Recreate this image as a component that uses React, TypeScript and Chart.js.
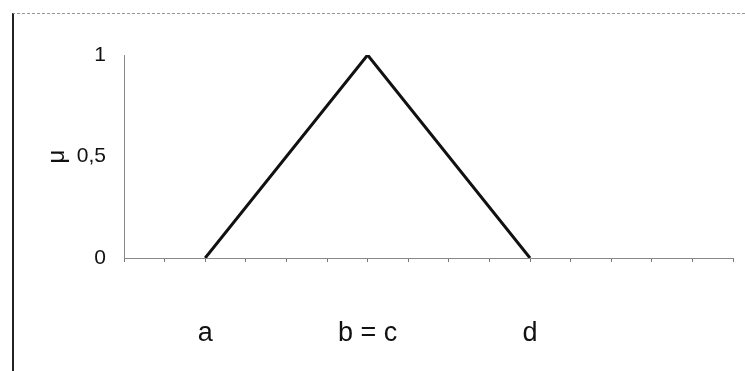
import React, { useEffect, useRef } from "react";
import { Chart, registerables } from "chart.js";

Chart.register(...registerables);

// Data: triangular membership function
const xPositions = [2, 6, 10];
const muValues = [0, 1, 0];
const xTickLabels: Record<number, string> = { 2: "a", 6: "b = c", 10: "d" };
const yTickValues = [0, 0.5, 1];
const yTickLabels = ["0", "0,5", "1"];
const xMin = 0;
const xMax = 15;
const yTitle = "μ";

const FONT = "'Liberation Sans', Arial, sans-serif";

export default function App() {
  const canvasRef = useRef<HTMLCanvasElement | null>(null);

  useEffect(() => {
    document.body.style.margin = "0";
    const canvas = canvasRef.current;
    if (!canvas) return;
    const chart = new Chart(canvas, {
      type: "line",
      data: {
        datasets: [
          {
            data: xPositions.map((x, i) => ({ x, y: muValues[i] })),
            borderColor: "#111",
            borderWidth: 3,
            pointRadius: 0,
            tension: 0,
            fill: false,
          },
        ],
      },
      options: {
        animation: false,
        responsive: false,
        maintainAspectRatio: false,
        layout: { padding: { left: 43, top: 55, right: 12, bottom: 0 } },
        plugins: { legend: { display: false }, tooltip: { enabled: false } },
        scales: {
          x: {
            type: "linear",
            min: xMin,
            max: xMax,
            afterFit: (s: any) => {
              s.height = 113;
              s.paddingLeft = 0;
              s.paddingRight = 0;
            },
            afterBuildTicks: (s: any) => {
              const t = [];
              for (let v = xMin; v <= xMax; v++) t.push({ value: v });
              s.ticks = t;
            },
            ticks: {
              autoSkip: false,
              maxRotation: 0,
              padding: 55,
              color: "#111",
              font: { family: FONT, size: 27 },
              callback: (v: any) => xTickLabels[Number(v)] ?? "",
            },
            grid: {
              display: true,
              drawOnChartArea: false,
              drawTicks: true,
              tickLength: 4,
              color: "#777",
            },
            border: { display: true, color: "#888", width: 1, dash: [3, 3] },
          },
          y: {
            type: "linear",
            min: 0,
            max: 1,
            afterFit: (s: any) => {
              s.width = 124 - 43;
              s.paddingTop = 0;
              s.paddingBottom = 0;
            },
            afterBuildTicks: (s: any) => {
              s.ticks = yTickValues.map((v) => ({ value: v }));
            },
            ticks: {
              padding: 18,
              color: "#111",
              font: { family: FONT, size: 21 },
              callback: (v: any) => {
                const i = yTickValues.indexOf(Number(v));
                return i >= 0 ? yTickLabels[i] : "";
              },
            },
            title: {
              display: true,
              text: yTitle,
              color: "#111",
              font: { family: FONT, size: 24 },
              padding: 0,
            },
            grid: { display: false, drawTicks: false },
            border: { display: true, color: "#888", width: 1, dash: [3, 3] },
          },
        },
      },
    });
    return () => chart.destroy();
  }, []);

  return (
    <div style={{ position: "fixed", left: 0, top: 0, width: 745, height: 371, background: "#fff" }}>
      <canvas ref={canvasRef} width={745} height={371} style={{ position: "absolute", left: 0, top: 0 }} />
      <div
        style={{
          position: "absolute",
          left: 12,
          top: 13,
          right: 0,
          bottom: 0,
          borderLeft: "2px solid #222",
          borderTop: "1px dashed #999",
          pointerEvents: "none",
        }}
      />
    </div>
  );
}
